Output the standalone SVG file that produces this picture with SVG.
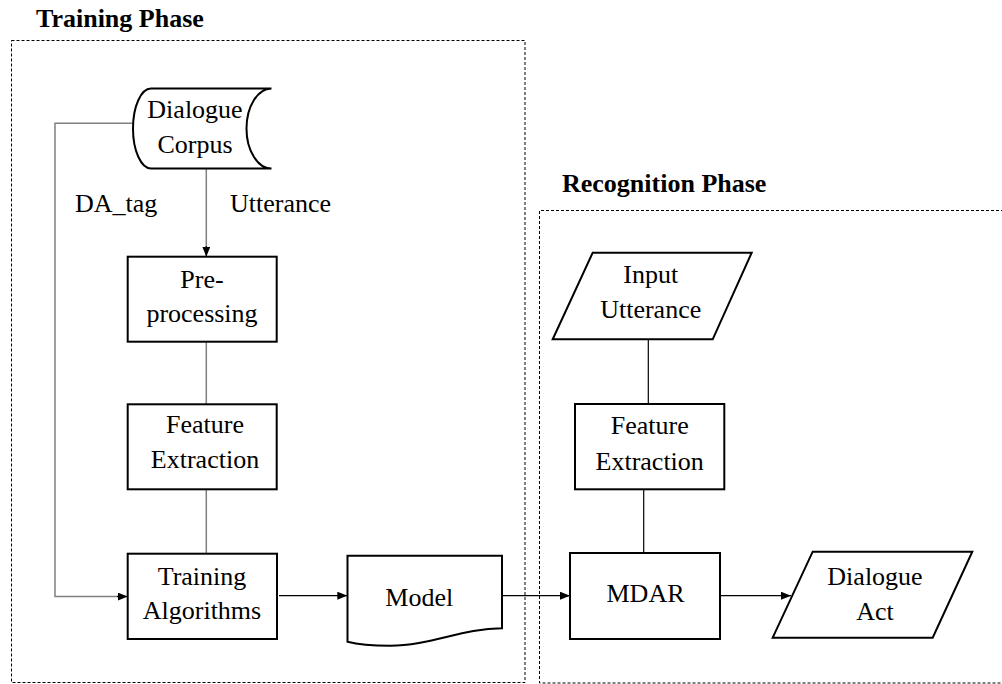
<svg xmlns="http://www.w3.org/2000/svg" width="1002" height="684" viewBox="0 0 1002 684">
<style>
  .t{font-family:"Liberation Serif","Times New Roman",serif;font-size:26px;fill:#000;text-anchor:middle}
  .s{text-anchor:start}
  .h{font-family:"Liberation Serif","Times New Roman",serif;font-size:26px;font-weight:bold;fill:#000}
  .box{fill:#fff;stroke:#000;stroke-width:2}
  .phase{fill:none;stroke:#000;stroke-width:1;stroke-dasharray:3 2}
  .g{fill:none;stroke:#808080;stroke-width:1.5}
  .k{fill:none;stroke:#000;stroke-width:1.2}
</style>
<defs>
  <marker id="arr" viewBox="0 0 10 8" refX="10" refY="4" markerWidth="10" markerHeight="8" markerUnits="userSpaceOnUse" orient="auto">
    <path d="M0,0 L10,4 L0,8 Z" fill="#000"/>
  </marker>
</defs>
<rect width="1002" height="684" fill="#fff"/>

<g id="training-phase">
  <text class="h" x="36" y="27">Training Phase</text>
  <rect class="phase" x="11.5" y="40.5" width="513.5" height="642"/>
</g>
<g id="recognition-phase">
  <text class="h" x="562" y="192">Recognition Phase</text>
  <path class="phase" d="M1004,210.5 H539.5 V683 H1004"/>
</g>

<g id="connectors">
  <path class="g" d="M133,123.3 H55 V596.5 H118"/>
  <path class="k" d="M117,596.5 H127.7" marker-end="url(#arr)"/>
  <path class="g" d="M206.3,168.5 V247"/>
  <path class="k" d="M206.3,246 V256.7" marker-end="url(#arr)"/>
  <path class="g" d="M206.3,341.7 V404.3"/>
  <path class="g" d="M206.3,489.3 V553.7"/>
  <path class="k" d="M279,595.7 H347.3" marker-end="url(#arr)"/>
  <path class="k" d="M502,595.7 H570" marker-end="url(#arr)"/>
  <path class="k" d="M648.3,339.3 V404"/>
  <path class="k" d="M643.7,489.3 V553"/>
  <path class="k" d="M720.7,595.7 H791" marker-end="url(#arr)"/>
  <text class="t s" x="75" y="212">DA_tag</text>
  <text class="t s" x="230" y="212">Utterance</text>
</g>

<g id="dialogue-corpus">
  <path class="box" d="M151,88.5 H271.5 A25 40 0 0 0 271.5,168.5 H151 A18 40 0 0 1 151,88.5 Z"/>
  <text class="t" x="195" y="118.3">Dialogue</text>
  <text class="t" x="195" y="153.3">Corpus</text>
</g>

<g id="pre-processing">
  <rect class="box" x="127.7" y="256.7" width="149" height="85"/>
  <text class="t" x="202" y="288.3">Pre-</text>
  <text class="t" x="202" y="321.7">processing</text>
</g>

<g id="feature-extraction-1">
  <rect class="box" x="127.7" y="404.3" width="149" height="85"/>
  <text class="t" x="205" y="432.7">Feature</text>
  <text class="t" x="205" y="467.7">Extraction</text>
</g>

<g id="training-algorithms">
  <rect class="box" x="127.7" y="553.7" width="149.3" height="85.3"/>
  <text class="t" x="202" y="585">Training</text>
  <text class="t" x="202" y="619.3">Algorithms</text>
</g>

<g id="model">
  <path class="box" d="M347.5,555.7 H502 V628.3 C462,628.5 430,645.7 390,645.7 C372,645.7 358,644.5 347.5,641.7 Z"/>
  <text class="t" x="419.3" y="605.7">Model</text>
</g>

<g id="input-utterance">
  <path class="box" d="M592.7,252.7 H751.7 L712.7,339.3 H552.7 Z"/>
  <text class="t" x="650.7" y="283.3">Input</text>
  <text class="t" x="650.7" y="318.3">Utterance</text>
</g>

<g id="feature-extraction-2">
  <rect class="box" x="575" y="404" width="149.3" height="85.3"/>
  <text class="t" x="649.7" y="434.3">Feature</text>
  <text class="t" x="649.7" y="470">Extraction</text>
</g>

<g id="mdar">
  <rect class="box" x="570" y="553" width="150" height="86"/>
  <text class="t" x="645.5" y="601.7">MDAR</text>
</g>

<g id="dialogue-act">
  <path class="box" d="M812.7,551.7 H972.3 L932.7,637.7 H772.7 Z"/>
  <text class="t" x="875" y="585">Dialogue</text>
  <text class="t" x="875" y="620">Act</text>
</g>
</svg>
